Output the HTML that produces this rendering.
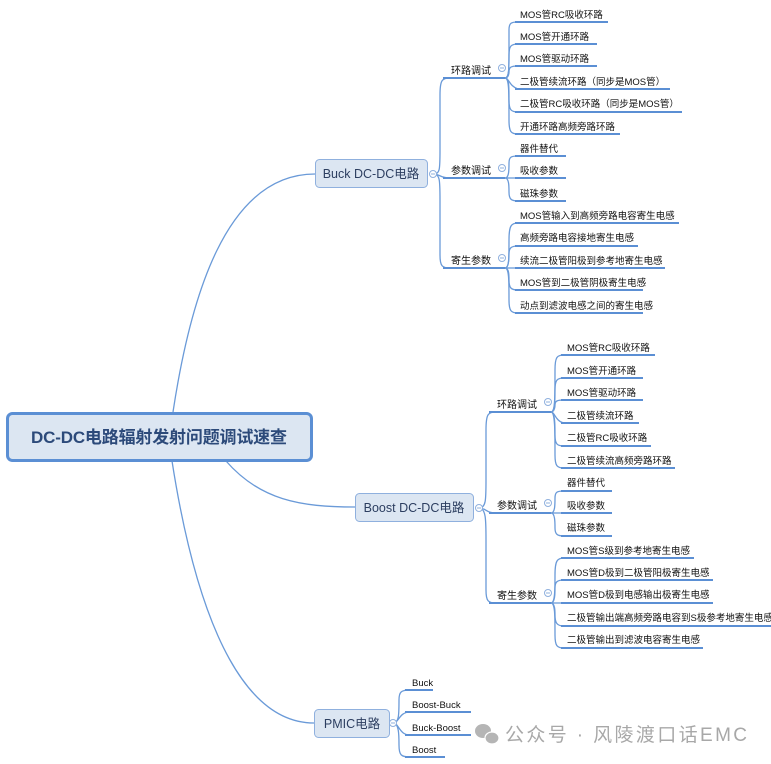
<!DOCTYPE html>
<html><head><meta charset="utf-8"><style>
body{margin:0;background:#fff;}
svg{display:block;}
text{font-family:"Liberation Sans","Noto Sans CJK SC",sans-serif;fill:#111;}
.l{font-size:9.5px;}
.m{font-size:10px;}
</style></head><body>
<svg width="771" height="764" viewBox="0 0 771 764" xmlns="http://www.w3.org/2000/svg">
<g fill="none" stroke="#6a9ad8" stroke-width="1.3">
<path d="M173,412 C190,300 225,174 315,174"/>
<path d="M226,461 C260,500 300,507 355,507"/>
<path d="M172,461 C200,640 250,723 314,723"/>
<path d="M433,174 C440,174 440,170 440,150 L440,95 C440,80 442,78 450,78"/>
<path d="M433,174 C440,174 440,178 450,178"/>
<path d="M433,174 C440,174 440,180 440,200 L440,255 C440,266 442,268 450,268"/>
<path d="M479,508 C486,508 486,500 486,480 L486,430 C486,414 488,412 496,412"/>
<path d="M479,508 C486,508 486,513 496,513"/>
<path d="M479,508 C486,508 486,520 486,540 L486,590 C486,601 488,603 496,603"/>
<path d="M393,723 C399,723 399,715 399,700 C399,692 401,690 410,690"/>
<path d="M393,723 C399,723 399,712 410,712"/>
<path d="M393,723 C399,723 399,735 410,735"/>
<path d="M393,723 C399,723 399,735 399,745 C399,755 401,757 410,757"/>
</g>
<g fill="none" stroke="#6a9ad8" stroke-width="1.3">
<path d="M505,78 C509,78 509,70 509,50 L509,30 C509,23 511,22 518,22"/>
<path d="M505,78 C509,78 509,70 509,55 C509,46 511,44 518,44"/>
<path d="M505,78 C509,78 509,72 509,72 C509,67 511,66 518,66"/>
<path d="M505,78 C509,78 509,86 518,89"/>
<path d="M505,78 C509,78 509,85 509,100 C509,110 511,112 518,112"/>
<path d="M505,78 C509,78 509,90 509,120 C509,132 511,134 518,134"/>
<path d="M505,178 C509,178 509,170 509,163 C509,157 511,156 518,156"/>
<path d="M505,178 L518,178"/>
<path d="M505,178 C509,178 509,186 509,192 C509,199 511,201 518,201"/>
<path d="M505,268 C509,268 509,260 509,240 C509,226 511,223 518,223"/>
<path d="M505,268 C509,268 509,258 509,254 C509,248 511,246 518,246"/>
<path d="M505,268 L518,268"/>
<path d="M505,268 C509,268 509,275 509,280 C509,288 511,290 518,290"/>
<path d="M505,268 C509,268 509,280 509,300 C509,311 511,313 518,313"/>
<path d="M551,412 C555,412 555,400 555,370 C555,357 557,355 564,355"/>
<path d="M551,412 C555,412 555,400 555,390 C555,380 557,378 564,378"/>
<path d="M551,412 C555,412 555,405 555,405 C555,401 557,400 564,400"/>
<path d="M551,412 C555,412 555,421 564,423"/>
<path d="M551,412 C555,412 555,425 555,435 C555,444 557,446 564,446"/>
<path d="M551,412 C555,412 555,430 555,455 C555,466 557,468 564,468"/>
<path d="M551,513 C555,513 555,505 555,498 C555,492 557,491 564,491"/>
<path d="M551,513 L564,513"/>
<path d="M551,513 C555,513 555,522 555,528 C555,534 557,536 564,536"/>
<path d="M551,603 C555,603 555,590 555,575 C555,561 557,558 564,558"/>
<path d="M551,603 C555,603 555,593 555,588 C555,582 557,580 564,580"/>
<path d="M551,603 L564,603"/>
<path d="M551,603 C555,603 555,611 555,615 C555,623 557,626 564,626"/>
<path d="M551,603 C555,603 555,615 555,635 C555,646 557,648 564,648"/>
</g>
<g stroke="#5b8fd4" stroke-width="2" fill="none">
<path d="M443,78H505M443,178H505M443,268H505"/>
<path d="M489,412H551M489,513H551M489,603H551"/>
<path d="M515,22H608M515,44H597M515,66H597M515,89H670M515,112H682M515,134H620"/>
<path d="M515,156H566M515,178H566M515,201H566"/>
<path d="M515,223H679M515,246H638M515,268H665M515,290H643M515,313H643"/>
<path d="M561,355H655M561,378H643M561,400H643M561,423H639M561,446H651M561,468H675"/>
<path d="M561,491H612M561,513H612M561,536H612"/>
<path d="M561,558H694M561,580H713M561,603H713M561,626H771M561,648H703"/>
<path d="M405,690H433M405,712H471M405,735H471M405,757H445"/>
</g>
<g fill="#fff" stroke="#8fb0de" stroke-width="1">
<circle cx="433" cy="174" r="3.5"/><circle cx="479" cy="508" r="3.5"/><circle cx="393" cy="723" r="3.5"/>
<circle cx="502" cy="68" r="3.5"/><circle cx="502" cy="168" r="3.5"/><circle cx="502" cy="258" r="3.5"/>
<circle cx="548" cy="402" r="3.5"/><circle cx="548" cy="503" r="3.5"/><circle cx="548" cy="593" r="3.5"/>
</g>
<g stroke="#8fb0de" stroke-width="1">
<path d="M431,174h4M477,508h4M391,723h4M500,68h4M500,168h4M500,258h4M546,402h4M546,503h4M546,593h4"/>
</g>
<rect x="7.5" y="413.5" width="304" height="47" rx="5" fill="#dce6f2" stroke="#5b8fd4" stroke-width="3"/>
<text x="159" y="443" text-anchor="middle" textLength="256" style="font-size:17px;font-weight:bold;fill:#2c4a7a">DC-DC电路辐射发射问题调试速查</text>
<rect x="315.5" y="159.5" width="112" height="28" rx="4" fill="#dce6f2" stroke="#8fb0de"/>
<text x="371" y="178" text-anchor="middle" style="font-size:12.5px;fill:#2c3e60">Buck DC-DC电路</text>
<rect x="355.5" y="493.5" width="118" height="28" rx="4" fill="#dce6f2" stroke="#8fb0de"/>
<text x="414" y="512" text-anchor="middle" style="font-size:12.5px;fill:#2c3e60">Boost DC-DC电路</text>
<rect x="314.5" y="709.5" width="75" height="28" rx="4" fill="#dce6f2" stroke="#8fb0de"/>
<text x="352" y="728" text-anchor="middle" style="font-size:12.5px;fill:#2c3e60">PMIC电路</text>
<g class="m">
<text x="451" y="74">环路调试</text><text x="451" y="174">参数调试</text><text x="451" y="264">寄生参数</text>
<text x="497" y="408">环路调试</text><text x="497" y="509">参数调试</text><text x="497" y="599">寄生参数</text>
</g>
<g class="l">
<text x="520" y="18">MOS管RC吸收环路</text>
<text x="520" y="40">MOS管开通环路</text>
<text x="520" y="62">MOS管驱动环路</text>
<text x="520" y="85">二极管续流环路（同步是MOS管）</text>
<text x="520" y="107">二极管RC吸收环路（同步是MOS管）</text>
<text x="520" y="130">开通环路高频旁路环路</text>
<text x="520" y="152">器件替代</text>
<text x="520" y="174">吸收参数</text>
<text x="520" y="197">磁珠参数</text>
<text x="520" y="219">MOS管输入到高频旁路电容寄生电感</text>
<text x="520" y="241">高频旁路电容接地寄生电感</text>
<text x="520" y="264">续流二极管阳极到参考地寄生电感</text>
<text x="520" y="286">MOS管到二极管阴极寄生电感</text>
<text x="520" y="309">动点到滤波电感之间的寄生电感</text>
<text x="567" y="351">MOS管RC吸收环路</text>
<text x="567" y="374">MOS管开通环路</text>
<text x="567" y="396">MOS管驱动环路</text>
<text x="567" y="419">二极管续流环路</text>
<text x="567" y="441">二极管RC吸收环路</text>
<text x="567" y="464">二极管续流高频旁路环路</text>
<text x="567" y="486">器件替代</text>
<text x="567" y="509">吸收参数</text>
<text x="567" y="531">磁珠参数</text>
<text x="567" y="554">MOS管S级到参考地寄生电感</text>
<text x="567" y="576">MOS管D极到二极管阳极寄生电感</text>
<text x="567" y="598">MOS管D极到电感输出极寄生电感</text>
<text x="567" y="621">二极管输出端高频旁路电容到S极参考地寄生电感</text>
<text x="567" y="643">二极管输出到滤波电容寄生电感</text>
<text x="412" y="686">Buck</text>
<text x="412" y="708">Boost-Buck</text>
<text x="412" y="731">Buck-Boost</text>
<text x="412" y="753">Boost</text>
</g>
<g fill="#b5b5b5">
<ellipse cx="483" cy="731" rx="8" ry="7"/>
<ellipse cx="492" cy="738" rx="7" ry="6" stroke="#fff" stroke-width="1.2"/>
</g>
<text x="505" y="741" textLength="242" style="font-size:19px;fill:#a8a8a8">公众号 · 风陵渡口话EMC</text>
</svg>
</body></html>
